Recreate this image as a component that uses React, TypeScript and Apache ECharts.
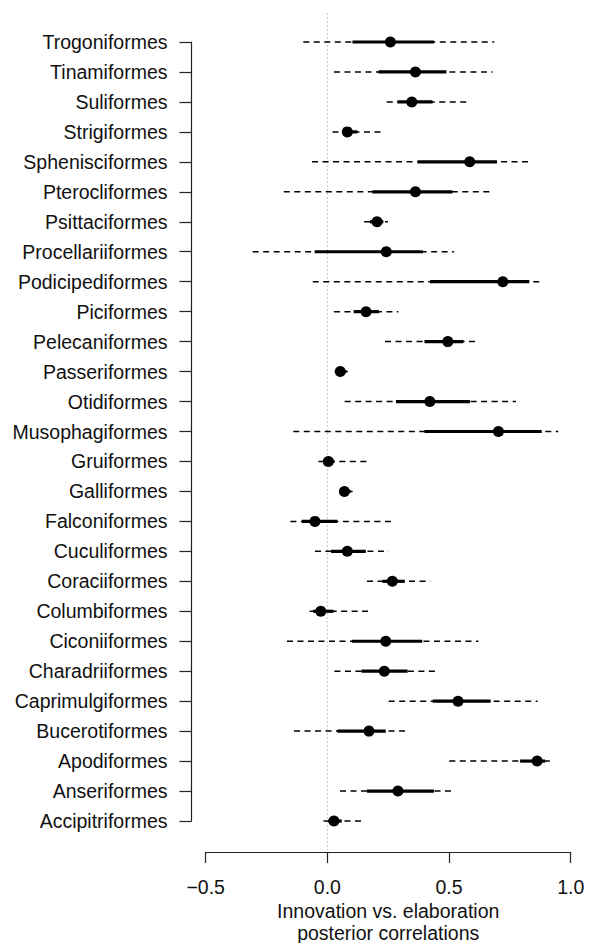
import React, { useEffect, useRef } from "react";
import * as echarts from "echarts";

const orders = [
  "Trogoniformes", "Tinamiformes", "Suliformes", "Strigiformes", "Sphenisciformes",
  "Pterocliformes", "Psittaciformes", "Procellariiformes", "Podicipediformes", "Piciformes",
  "Pelecaniformes", "Passeriformes", "Otidiformes", "Musophagiformes", "Gruiformes",
  "Galliformes", "Falconiformes", "Cuculiformes", "Coraciiformes", "Columbiformes",
  "Ciconiiformes", "Charadriiformes", "Caprimulgiformes", "Bucerotiformes", "Apodiformes",
  "Anseriformes", "Accipitriformes",
];

const lower95 = [
  -0.099, 0.027, 0.244, 0.021, -0.063, -0.179, 0.151, -0.307, -0.06, 0.027,
  0.237, 0.03, 0.071, -0.14, -0.037, 0.048, -0.152, -0.051, 0.163, -0.073,
  -0.166, 0.029, 0.252, -0.137, 0.501, 0.052, -0.016,
];
const lower50 = [
  0.103, 0.21, 0.288, 0.062, 0.371, 0.185, 0.175, -0.052, 0.422, 0.108,
  0.399, 0.035, 0.282, 0.399, -0.016, 0.052, -0.105, 0.015, 0.226, -0.058,
  0.101, 0.14, 0.433, 0.041, 0.792, 0.163, 0.004,
];
const means = [
  0.259, 0.362, 0.347, 0.082, 0.585, 0.362, 0.204, 0.242, 0.721, 0.159,
  0.495, 0.053, 0.421, 0.703, 0.004, 0.07, -0.051, 0.082, 0.267, -0.027,
  0.24, 0.234, 0.537, 0.171, 0.862, 0.29, 0.027,
];
const upper50 = [
  0.438, 0.489, 0.432, 0.123, 0.697, 0.514, 0.23, 0.393, 0.83, 0.212,
  0.559, 0.078, 0.586, 0.881, 0.029, 0.095, 0.041, 0.158, 0.318, 0.025,
  0.39, 0.33, 0.671, 0.24, 0.895, 0.438, 0.059,
];
const upper95 = [
  0.686, 0.679, 0.586, 0.226, 0.841, 0.684, 0.249, 0.521, 0.884, 0.292,
  0.618, 0.084, 0.775, 0.949, 0.17, 0.104, 0.268, 0.252, 0.423, 0.185,
  0.621, 0.453, 0.864, 0.327, 0.925, 0.518, 0.148,
];

const xTicks = [-0.5, 0.0, 0.5, 1.0];
const xTitleLines = ["Innovation vs. elaboration", "posterior correlations"];
const FONT = "'Liberation Sans', Arial, Helvetica, sans-serif";

export default function App() {
  const ref = useRef<HTMLDivElement>(null);
  useEffect(() => {
    if (!ref.current) return;
    const chart = echarts.init(ref.current, undefined, { renderer: "svg" });
    const rows = orders.map((_, i) => [i, lower95[i], lower50[i], means[i], upper50[i], upper95[i]]);
    chart.setOption({
      animation: false,
      backgroundColor: "#ffffff",
      textStyle: { fontFamily: FONT },
      grid: {
        left: 205.7,
        right: 24.3,
        top: 42,
        bottom: 122,
        containLabel: false,
        outerBoundsMode: "none",
      },
      xAxis: {
        type: "value",
        min: xTicks[0],
        max: xTicks[xTicks.length - 1],
        interval: 0.5,
        offset: 31,
        axisLine: { show: true, onZero: false, lineStyle: { color: "#222", width: 1.2 } },
        axisTick: { show: true, length: 11, lineStyle: { color: "#222", width: 1.2 } },
        axisLabel: {
          fontSize: 19.5,
          color: "#111",
          margin: 25,
          fontFamily: FONT,
          formatter: (v: number) => v.toFixed(1).replace("-", "\u2212"),
        },
        splitLine: { show: false },
      },
      yAxis: {
        type: "category",
        data: orders,
        inverse: true,
        boundaryGap: false,
        offset: 14.2,
        axisLine: { show: true, onZero: false, lineStyle: { color: "#222", width: 1.2 } },
        axisTick: { show: true, length: 12, alignWithLabel: true, lineStyle: { color: "#222", width: 1.2 } },
        axisLabel: { fontSize: 19.5, color: "#111", margin: 24, fontFamily: FONT, interval: 0 },
        splitLine: { show: false },
      },
      series: [
        {
          type: "custom",
          clip: false,
          silent: true,
          data: [[0]],
          renderItem: (params: any, api: any) => {
            const cs = params.coordSys;
            const x = api.coord([api.value(0), 0])[0];
            return {
              type: "line",
              shape: { x1: x, y1: cs.y - 29, x2: x, y2: cs.y + cs.height + 29 },
              style: { stroke: "#c8c8c8", lineWidth: 1, lineDash: [2, 2] },
              z2: 0,
            };
          },
          z: 1,
        },
        {
          type: "custom",
          clip: false,
          silent: true,
          data: rows,
          encode: { y: 0, x: [1, 2, 3, 4, 5] },
          renderItem: (params: any, api: any) => {
            const idx = api.value(0);
            const p95a = api.coord([api.value(1), idx]);
            const p50a = api.coord([api.value(2), idx]);
            const pm = api.coord([api.value(3), idx]);
            const p50b = api.coord([api.value(4), idx]);
            const p95b = api.coord([api.value(5), idx]);
            return {
              type: "group",
              children: [
                {
                  type: "line",
                  shape: { x1: p95a[0], y1: p95a[1], x2: p95b[0], y2: p95b[1] },
                  style: { stroke: "#000", lineWidth: 1.5, lineDash: [6, 4.5] },
                },
                {
                  type: "line",
                  shape: { x1: p50a[0], y1: p50a[1], x2: p50b[0], y2: p50b[1] },
                  style: { stroke: "#000", lineWidth: 3.2 },
                },
                {
                  type: "circle",
                  shape: { cx: pm[0], cy: pm[1], r: 5.5 },
                  style: { fill: "#000" },
                },
              ],
            };
          },
          z: 2,
        },
      ],
    });
    const mid = (xTicks[0] + xTicks[xTicks.length - 1]) / 2;
    const cx = chart.convertToPixel({ xAxisIndex: 0 }, mid) as number;
    chart.setOption({
      graphic: xTitleLines.map((t, i) => ({
        type: "text",
        x: cx,
        y: 910.8 + i * 21.7,
        silent: true,
        style: {
          text: t,
          fontSize: 19.5,
          fontFamily: FONT,
          fill: "#111",
          textAlign: "center",
          textVerticalAlign: "middle",
        },
      })),
    });
    return () => chart.dispose();
  }, []);
  return (
    <div
      ref={ref}
      style={{ position: "absolute", left: 0, top: 0, width: 595, height: 943, background: "#fff" }}
    />
  );
}
